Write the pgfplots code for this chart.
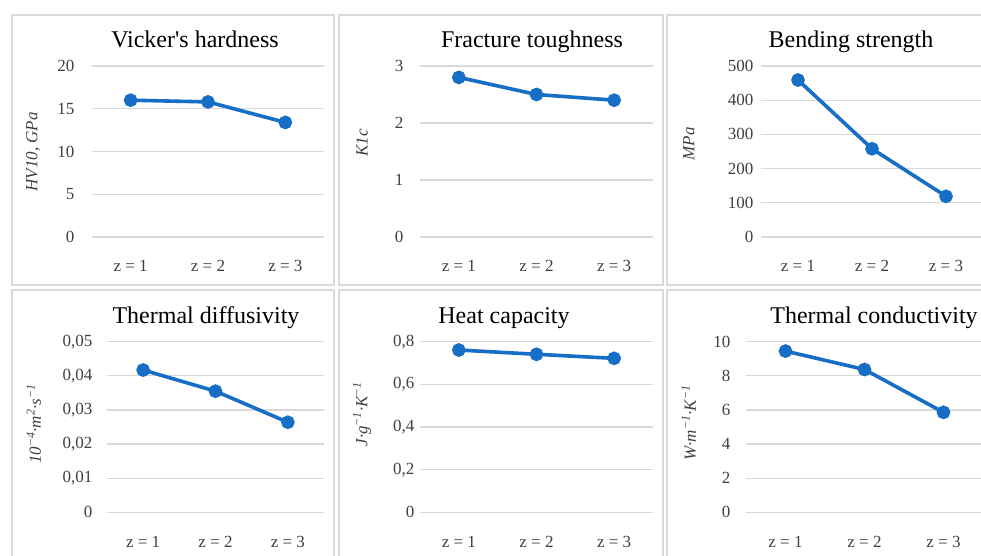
\documentclass[border=0pt]{standalone}
\usepackage{pgfplots}
\pgfplotsset{compat=1.18}
\usepackage{fontspec}
\setmainfont{Liberation Serif}
\definecolor{lineblue}{RGB}{22,110,198}
\definecolor{gridgray}{RGB}{217,217,217}
\definecolor{boxgray}{RGB}{218,218,218}
\definecolor{ticktext}{RGB}{64,64,64}
\pgfplotsset{
 panel/.style={
  scale only axis, anchor=south west,
  xmin=-0.5, xmax=2.5, ymin=0,
  xtick={0,1,2}, xticklabels={z = 1, z = 2, z = 3},
  axis line style={draw=none},
  major tick length=0pt,
  scaled y ticks=false,
  ymajorgrids, grid style={gridgray, line width=1.3pt},
  tick label style={font=\fontsize{17}{20}\selectfont, text=ticktext},
  /pgf/number format/assume math mode=true,
  xticklabel style={yshift=-20pt},
  clip=false,
 },
 series/.style={lineblue, line width=3.6pt, mark=*, mark size=5pt, mark options={solid, fill=lineblue, draw=none}},
}
\begin{document}
\begin{tikzpicture}
\useasboundingbox (0pt,0pt) rectangle (981pt,555pt);
\clip (0pt,0pt) rectangle (981pt,555pt);
\fill[white] (0pt,0pt) rectangle (981pt,555pt);
% panel boxes
\begin{scope}[draw=boxgray, line width=1.5pt]
\draw (12pt,270pt) rectangle (334pt,540pt);
\draw (339pt,270pt) rectangle (663pt,540pt);
\draw (667pt,270pt) rectangle (1000pt,540pt);
\draw (12pt,-10pt) rectangle (334pt,265pt);
\draw (339pt,-10pt) rectangle (663pt,265pt);
\draw (667pt,-10pt) rectangle (1000pt,265pt);
\end{scope}

% Panel 1
\begin{axis}[panel, at={(92pt,318pt)}, width=232pt, height=171pt,
  ymax=20, ytick={0,5,10,15,20}, yticklabel style={xshift=-14pt}]
\addplot[series] coordinates {(0,16.0) (1,15.8) (2,13.4)};
\end{axis}
% Panel 2
\begin{axis}[panel, at={(420pt,318pt)}, width=233pt, height=171pt,
  ymax=3, ytick={0,1,2,3}, yticklabel style={xshift=-13pt}]
\addplot[series] coordinates {(0,2.8) (1,2.5) (2,2.4)};
\end{axis}
% Panel 3
\begin{axis}[panel, at={(761pt,318pt)}, width=222pt, height=171pt,
  ymax=500, ytick={0,100,200,300,400,500}, yticklabel style={xshift=-4pt}]
\addplot[series] coordinates {(0,459) (1,258) (2,119)};
\end{axis}
% Panel 4
\begin{axis}[panel, at={(107pt,42.7pt)}, width=217pt, height=170.6pt,
  ymax=0.05, ytick={0,0.01,0.02,0.03,0.04,0.05},
  yticklabels={0,{0,01},{0,02},{0,03},{0,04},{0,05}}, yticklabel style={xshift=-11pt}]
\addplot[series] coordinates {(0,0.0417) (1,0.0355) (2,0.0264)};
\end{axis}
% Panel 5
\begin{axis}[panel, at={(420pt,42.7pt)}, width=233pt, height=170.6pt,
  ymax=0.8, ytick={0,0.2,0.4,0.6,0.8},
  yticklabels={0,{0,2},{0,4},{0,6},{0,8}}, yticklabel style={xshift=-2pt}]
\addplot[series] coordinates {(0,0.761) (1,0.741) (2,0.722)};
\end{axis}
% Panel 6
\begin{axis}[panel, at={(746pt,42.7pt)}, width=237pt, height=170.6pt,
  ymax=10, ytick={0,2,4,6,8,10}, yticklabel style={xshift=-12pt}]
\addplot[series] coordinates {(0,9.45) (1,8.37) (2,5.86)};
\end{axis}

% titles
\begin{scope}[every node/.style={anchor=base, font=\fontsize{24}{28}\selectfont, inner sep=0pt}]
\node at (195pt,507pt) {Vicker\textquotesingle s hardness};
\node at (532pt,507pt) {Fracture toughness};
\node at (851pt,507pt) {Bending strength};
\node at (206pt,232pt) {Thermal diffusivity};
\node at (504pt,232pt) {Heat capacity};
\node at (874pt,232pt) {Thermal conductivity};
\end{scope}
% y labels
\begin{scope}[every node/.style={rotate=90, anchor=center, font=\fontsize{17}{20}\selectfont\itshape, text=ticktext, inner sep=0pt}]
\node at (33pt,403pt) {HV10, GPa};
\node at (362pt,412pt) {K1c};
\node at (689pt,411pt) {MPa};
\node at (34pt,131pt) {10\textsuperscript{−4}·m\textsuperscript{2}·s\textsuperscript{−1}};
\node at (362pt,141pt) {J·g\textsuperscript{−1}·K\textsuperscript{−1}};
\node at (689pt,132pt) {W·m\textsuperscript{−1}·K\textsuperscript{−1}};
\end{scope}
\end{tikzpicture}
\end{document}
